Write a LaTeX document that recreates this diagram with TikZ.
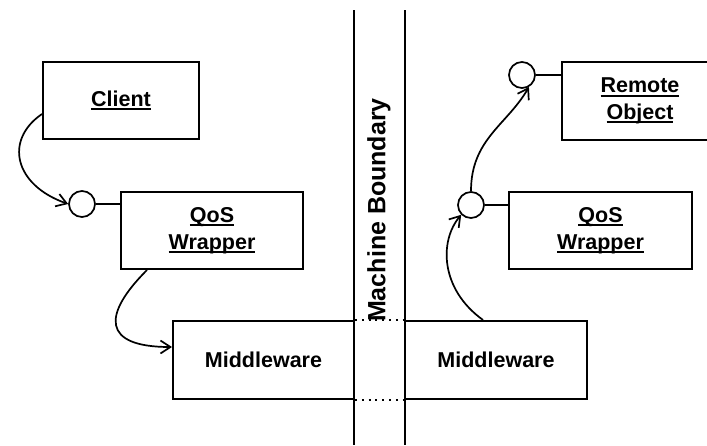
\documentclass[tikz,border=0pt]{standalone}
\usepackage{fontspec}
\setmainfont{Liberation Sans}
\usetikzlibrary{arrows.meta}
% thick underline for object names
\newcommand\objname[1]{\setbox0\hbox{#1}\rlap{\rule[-3.6pt]{\wd0}{1.9pt}}\box0}
\tikzset{
  box/.style={draw, line width=2pt, inner sep=0pt, align=center,
    font=\fontsize{21.5}{26.5}\selectfont\bfseries},
  port/.style={draw, circle, line width=1.7pt, minimum size=26pt, inner sep=0pt, fill=white},
  wire/.style={line width=1.7pt},
  link/.style={line width=1.7pt, -{Straight Barb[length=10pt,width=13pt,line width=1.7pt]}},
  border/.style={line width=1.8pt},
  gap/.style={line width=2.2pt, dash pattern=on 2pt off 4.8pt},
}
\begin{document}
\begin{tikzpicture}[x=1pt, y=-1pt]
\useasboundingbox (0,0) rectangle (707,445);

% machine boundary
\coordinate (la) at (354,10);
\coordinate (lb) at (354,445);
\coordinate (ra) at (405,10);
\coordinate (rb) at (405,445);
\draw[border] (la) -- (lb);
\draw[border] (ra) -- (rb);
\node[rotate=90, font=\fontsize{25}{30}\selectfont\bfseries] (mb) at (379,210) {Machine Boundary};

% components
\node[box, minimum width=156pt, minimum height=77pt] (client) at (121,100.5) {\objname{Client}};
\node[box, minimum width=182pt, minimum height=77pt] (qosL) at (212,230.5) {\objname{QoS}\\\objname{Wrapper}};
\node[box, minimum width=181pt, minimum height=78pt] (mwL) at (263.5,360) {Middleware};
\node[box, minimum width=182pt, minimum height=78pt] (mwR) at (496,360) {Middleware};
\node[box, minimum width=156pt, minimum height=78pt] (remote) at (640,101) {\objname{Remote}\\\objname{Object}};
\node[box, minimum width=183pt, minimum height=77pt] (qosR) at (600.5,230.5) {\objname{QoS}\\\objname{Wrapper}};

% dotted link between the two middleware halves
\draw[gap] (mwL.north east) -- (mwR.north west);
\draw[gap] (mwL.south east) -- (mwR.south west);

% interface ports
\node[port] (p1) at (82,204) {};
\node[port] (p2) at (471,205) {};
\node[port] (p3) at (522,75) {};
\draw[wire] (p1.east) -- (p1.east -| qosL.west);
\draw[wire] (p2.east) -- (p2.east -| qosR.west);
\draw[wire] (p3.east) -- (p3.east -| remote.west);

% call path
\draw[link] ([yshift=-13.5pt]client.west) .. controls +(-38,26) and +(-54,-19) .. (p1.west);
\draw[link] ([xshift=-65pt]qosL.south) .. controls +(-45,45) and +(-70,0) .. ([yshift=13pt]mwL.west);
\draw[link] ([xshift=-13pt]mwR.north) .. controls +(-43,-31) and +(-22,26) .. (p2.south west);
\draw[link] (p2.north) .. controls +(0,-52) and +(-22,38) .. (p3.-60);
\end{tikzpicture}
\end{document}
